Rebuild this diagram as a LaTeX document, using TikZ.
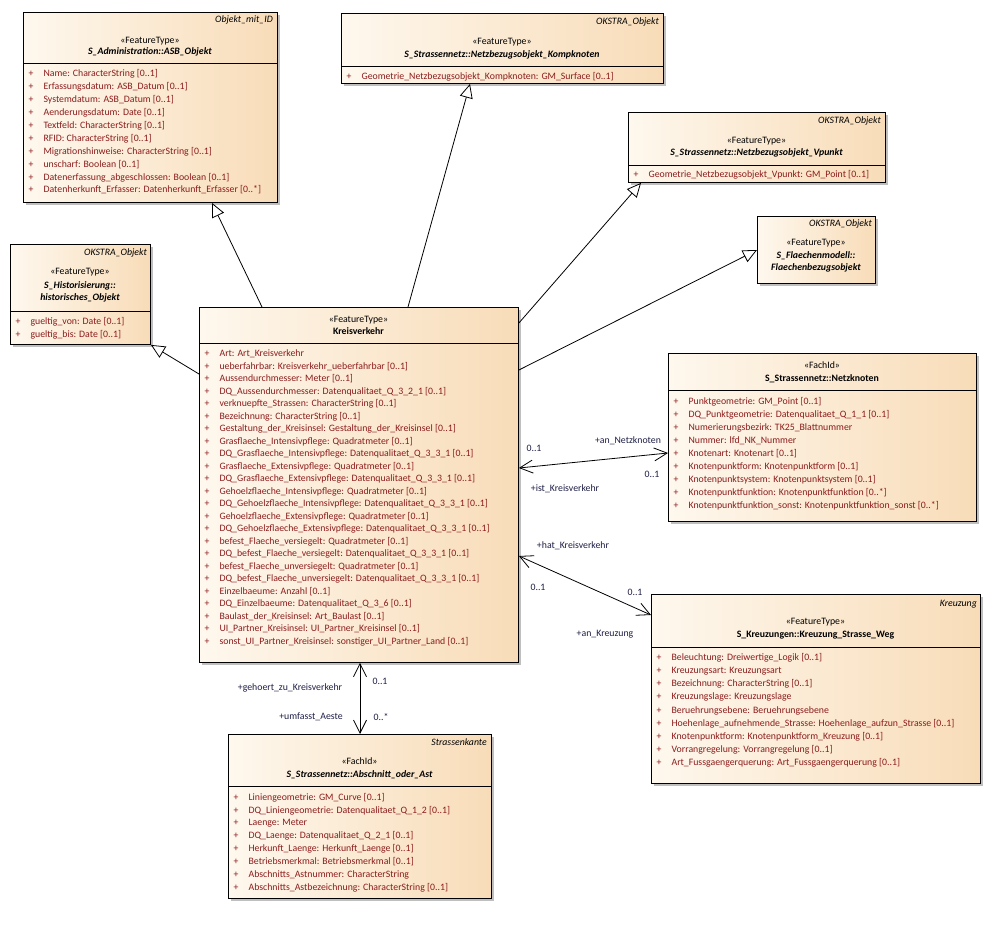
\documentclass[tikz,border=0pt]{standalone}
\usepackage{fontspec}
\setmainfont{Carlito}
\usetikzlibrary{arrows.meta,calc}
\definecolor{attr}{RGB}{140,28,28}
\definecolor{lbl}{RGB}{30,30,70}
\definecolor{fillL}{RGB}{254,248,238}
\definecolor{fillR}{RGB}{248,220,184}
\newcommand\fs{\fontsize{9.8}{11}\selectfont}
\tikzset{
  clsbox/.style={draw=black, line width=0.9pt, left color=fillL, right color=fillR, inner sep=0pt, anchor=north west},
  shade/.style={fill=black!25},
  hdr/.style={inner sep=0pt, text height=7pt, text depth=2pt, font=\fs},
  tagtxt/.style={hdr, anchor=east, font=\fs\itshape},
  nametxt/.style={hdr, font=\fs\bfseries},
  absname/.style={hdr, font=\fs\bfseries\itshape},
  sepline/.style={draw=black, line width=0.9pt},
  gen/.style={draw=black, line width=0.8pt, -{Triangle[open, length=14pt, width=13pt, fill=white]}},
  assoc/.style={draw=black, line width=0.8pt, {Straight Barb[length=13pt, width=13pt]}-{Straight Barb[length=13pt, width=13pt]}},
  role/.style={inner sep=0pt, text=lbl, font=\fs}
}
\newcommand\umlclass[5]{%
  \fill[shade] (#2+3,#3+3) rectangle ++(#4,#5);
  \node[clsbox, minimum width=#4pt, minimum height=#5pt] (#1) at (#2,#3) {};
}
\newcommand\attrlist[5]{% name, x, ytop, step, rows
  \node[anchor=north west, inner sep=0pt, text=attr, font=\fontsize{9.8}{#4}\selectfont] (#1) at (#2,#3)
    {\begin{tabular}{@{}l@{\hspace{10pt}}l@{}}#5\end{tabular}};
}
\begin{document}
\begin{tikzpicture}[x=1pt,y=-1pt]
\useasboundingbox (0,0) rectangle (991,928);
\fill[white] (0,0) rectangle (991,928);

% ---------- ASB_Objekt
\umlclass{asb}{23}{12}{254}{190}
\node[tagtxt] (asbtag) at (273,20) {Objekt\_mit\_ID};
\node[hdr] (asbst) at (150,41) {«FeatureType»};
\node[absname] (asbnm) at (150,52.5) {S\_Administration::ASB\_Objekt};
\draw[sepline] (23,63) -- (277,63);
\attrlist{asbat}{28.5}{67.6}{12.9}{%
+ & Name: CharacterString [0..1]\\
+ & Erfassungsdatum: ASB\_Datum [0..1]\\
+ & Systemdatum: ASB\_Datum [0..1]\\
+ & Aenderungsdatum: Date [0..1]\\
+ & Textfeld: CharacterString [0..1]\\
+ & RFID: CharacterString [0..1]\\
+ & Migrationshinweise: CharacterString [0..1]\\
+ & unscharf: Boolean [0..1]\\
+ & Datenerfassung\_abgeschlossen: Boolean [0..1]\\
+ & Datenherkunft\_Erfasser: Datenherkunft\_Erfasser [0..*]}

% ---------- Kompknoten
\umlclass{komp}{341}{13}{322}{70}
\node[tagtxt] (komptag) at (659,22) {OKSTRA\_Objekt};
\node[hdr] (kompst) at (502,42) {«FeatureType»};
\node[absname] (kompnm) at (502,55) {S\_Strassennetz::Netzbezugsobjekt\_Kompknoten};
\draw[sepline] (341,66) -- (663,66);
\attrlist{kompat}{346.5}{70.6}{12.9}{%
+ & Geometrie\_Netzbezugsobjekt\_Kompknoten: GM\_Surface [0..1]}

% ---------- Vpunkt
\umlclass{vpkt}{628}{112}{257}{70}
\node[tagtxt] (vpkttag) at (881,121) {OKSTRA\_Objekt};
\node[hdr] (vpktst) at (756.5,141) {«FeatureType»};
\node[absname] (vpktnm) at (756.5,153) {S\_Strassennetz::Netzbezugsobjekt\_Vpunkt};
\draw[sepline] (628,165) -- (885,165);
\attrlist{vpktat}{633.5}{168}{12.9}{%
+ & Geometrie\_Netzbezugsobjekt\_Vpunkt: GM\_Point [0..1]}

% ---------- Flaechenbezugsobjekt
\umlclass{flae}{757}{216}{118}{67}
\node[tagtxt] (flaetag) at (872,224.5) {OKSTRA\_Objekt};
\node[hdr] (flaest) at (816,243) {«FeatureType»};
\node[absname] (flaenm1) at (816,256) {S\_Flaechenmodell::};
\node[absname] (flaenm2) at (816,268.5) {Flaechenbezugsobjekt};

% ---------- historisches_Objekt
\umlclass{hist}{10}{244}{140}{100}
\node[tagtxt] (histtag) at (147,253.5) {OKSTRA\_Objekt};
\node[hdr] (histst) at (80,272.5) {«FeatureType»};
\node[absname] (histnm1) at (80,286) {S\_Historisierung::};
\node[absname] (histnm2) at (80,298.5) {historisches\_Objekt};
\draw[sepline] (10,311) -- (150,311);
\attrlist{histat}{15.5}{315.6}{12.9}{%
+ & gueltig\_von: Date [0..1]\\
+ & gueltig\_bis: Date [0..1]}

% ---------- Kreisverkehr
\umlclass{kreis}{199}{307}{319}{355}
\node[hdr] (kreisst) at (358.5,320) {«FeatureType»};
\node[nametxt] (kreisnm) at (358.5,332) {Kreisverkehr};
\draw[sepline] (199,343) -- (518,343);
\attrlist{kreisat}{204.5}{347.9}{12.5}{%
+ & Art: Art\_Kreisverkehr\\
+ & ueberfahrbar: Kreisverkehr\_ueberfahrbar [0..1]\\
+ & Aussendurchmesser: Meter [0..1]\\
+ & DQ\_Aussendurchmesser: Datenqualitaet\_Q\_3\_2\_1 [0..1]\\
+ & verknuepfte\_Strassen: CharacterString [0..1]\\
+ & Bezeichnung: CharacterString [0..1]\\
+ & Gestaltung\_der\_Kreisinsel: Gestaltung\_der\_Kreisinsel [0..1]\\
+ & Grasflaeche\_Intensivpflege: Quadratmeter [0..1]\\
+ & DQ\_Grasflaeche\_Intensivpflege: Datenqualitaet\_Q\_3\_3\_1 [0..1]\\
+ & Grasflaeche\_Extensivpflege: Quadratmeter [0..1]\\
+ & DQ\_Grasflaeche\_Extensivpflege: Datenqualitaet\_Q\_3\_3\_1 [0..1]\\
+ & Gehoelzflaeche\_Intensivpflege: Quadratmeter [0..1]\\
+ & DQ\_Gehoelzflaeche\_Intensivpflege: Datenqualitaet\_Q\_3\_3\_1 [0..1]\\
+ & Gehoelzflaeche\_Extensivpflege: Quadratmeter [0..1]\\
+ & DQ\_Gehoelzflaeche\_Extensivpflege: Datenqualitaet\_Q\_3\_3\_1 [0..1]\\
+ & befest\_Flaeche\_versiegelt: Quadratmeter [0..1]\\
+ & DQ\_befest\_Flaeche\_versiegelt: Datenqualitaet\_Q\_3\_3\_1 [0..1]\\
+ & befest\_Flaeche\_unversiegelt: Quadratmeter [0..1]\\
+ & DQ\_befest\_Flaeche\_unversiegelt: Datenqualitaet\_Q\_3\_3\_1 [0..1]\\
+ & Einzelbaeume: Anzahl [0..1]\\
+ & DQ\_Einzelbaeume: Datenqualitaet\_Q\_3\_6 [0..1]\\
+ & Baulast\_der\_Kreisinsel: Art\_Baulast [0..1]\\
+ & UI\_Partner\_Kreisinsel: UI\_Partner\_Kreisinsel [0..1]\\
+ & sonst\_UI\_Partner\_Kreisinsel: sonstiger\_UI\_Partner\_Land [0..1]}

% ---------- Netzknoten
\umlclass{netz}{668}{353}{308}{168}
\node[hdr] (netzst) at (822,366) {«FachId»};
\node[nametxt] (netznm) at (822,379) {S\_Strassennetz::Netzknoten};
\draw[sepline] (668,390) -- (976,390);
\attrlist{netzat}{673.5}{395}{13.0}{%
+ & Punktgeometrie: GM\_Point [0..1]\\
+ & DQ\_Punktgeometrie: Datenqualitaet\_Q\_1\_1 [0..1]\\
+ & Numerierungsbezirk: TK25\_Blattnummer\\
+ & Nummer: lfd\_NK\_Nummer\\
+ & Knotenart: Knotenart [0..1]\\
+ & Knotenpunktform: Knotenpunktform [0..1]\\
+ & Knotenpunktsystem: Knotenpunktsystem [0..1]\\
+ & Knotenpunktfunktion: Knotenpunktfunktion [0..*]\\
+ & Knotenpunktfunktion\_sonst: Knotenpunktfunktion\_sonst [0..*]}

% ---------- Kreuzung
\umlclass{kreuz}{651}{594}{329}{189}
\node[tagtxt] (kreuztag) at (977,604) {Kreuzung};
\node[hdr] (kreuzst) at (815.5,622) {«FeatureType»};
\node[nametxt] (kreuznm) at (815.5,635) {S\_Kreuzungen::Kreuzung\_Strasse\_Weg};
\draw[sepline] (651,647) -- (980,647);
\attrlist{kreuzat}{656.5}{651.5}{13.05}{%
+ & Beleuchtung: Dreiwertige\_Logik [0..1]\\
+ & Kreuzungsart: Kreuzungsart\\
+ & Bezeichnung: CharacterString [0..1]\\
+ & Kreuzungslage: Kreuzungslage\\
+ & Beruehrungsebene: Beruehrungsebene\\
+ & Hoehenlage\_aufnehmende\_Strasse: Hoehenlage\_aufzun\_Strasse [0..1]\\
+ & Knotenpunktform: Knotenpunktform\_Kreuzung [0..1]\\
+ & Vorrangregelung: Vorrangregelung [0..1]\\
+ & Art\_Fussgaengerquerung: Art\_Fussgaengerquerung [0..1]}

% ---------- Abschnitt_oder_Ast
\umlclass{absch}{228}{734}{263}{164}
\node[tagtxt] (abschtag) at (487,743) {Strassenkante};
\node[hdr] (abschst) at (359.5,762) {«FachId»};
\node[absname] (abschnm) at (359.5,774.5) {S\_Strassennetz::Abschnitt\_oder\_Ast};
\draw[sepline] (228,786) -- (491,786);
\attrlist{abschat}{233.5}{791}{12.85}{%
+ & Liniengeometrie: GM\_Curve [0..1]\\
+ & DQ\_Liniengeometrie: Datenqualitaet\_Q\_1\_2 [0..1]\\
+ & Laenge: Meter\\
+ & DQ\_Laenge: Datenqualitaet\_Q\_2\_1 [0..1]\\
+ & Herkunft\_Laenge: Herkunft\_Laenge [0..1]\\
+ & Betriebsmerkmal: Betriebsmerkmal [0..1]\\
+ & Abschnitts\_Astnummer: CharacterString\\
+ & Abschnitts\_Astbezeichnung: CharacterString [0..1]}

% ---------- generalizations
\draw[gen] ($(kreis.north west)+(63,0)$) -- ($(asb.south west)+(189,0)$);
\draw[gen] ($(kreis.north west)+(209,0)$) -- ($(komp.south west)+(129,0)$);
\draw[gen] ($(kreis.north east)+(0,16)$) -- ($(vpkt.south west)+(13,0)$);
\draw[gen] ($(kreis.north east)+(0,63)$) -- ($(flae.north west)+(0,34)$);
\draw[gen] ($(kreis.north west)+(0,67)$) -- (hist.south east);

% ---------- associations
\draw[assoc] ($(kreis.north east)+(0,161)$) -- ($(netz.north west)+(0,100)$);
\draw[assoc] ($(kreis.north east)+(0,249)$) -- ($(kreuz.north west)+(0,21)$);
\draw[assoc] ($(kreis.south west)+(161,0)$) -- ($(absch.north west)+(132,0)$);

% ---------- association labels
\node[role] (m1) at (534,448) {0..1};
\node[role] (r1) at (628,441) {+an\_Netzknoten};
\node[role] (m2) at (652,474) {0..1};
\node[role] (r2) at (565,489) {+ist\_Kreisverkehr};
\node[role] (r3) at (573,546) {+hat\_Kreisverkehr};
\node[role] (m3) at (538,587) {0..1};
\node[role] (m4) at (635,592) {0..1};
\node[role] (r4) at (605,634) {+an\_Kreuzung};
\node[role] (r5) at (290,688) {+gehoert\_zu\_Kreisverkehr};
\node[role] (m5) at (380,681) {0..1};
\node[role] (r6) at (311,717) {+umfasst\_Aeste};
\node[role] (m6) at (381,717) {0..*};
\end{tikzpicture}
\end{document}
